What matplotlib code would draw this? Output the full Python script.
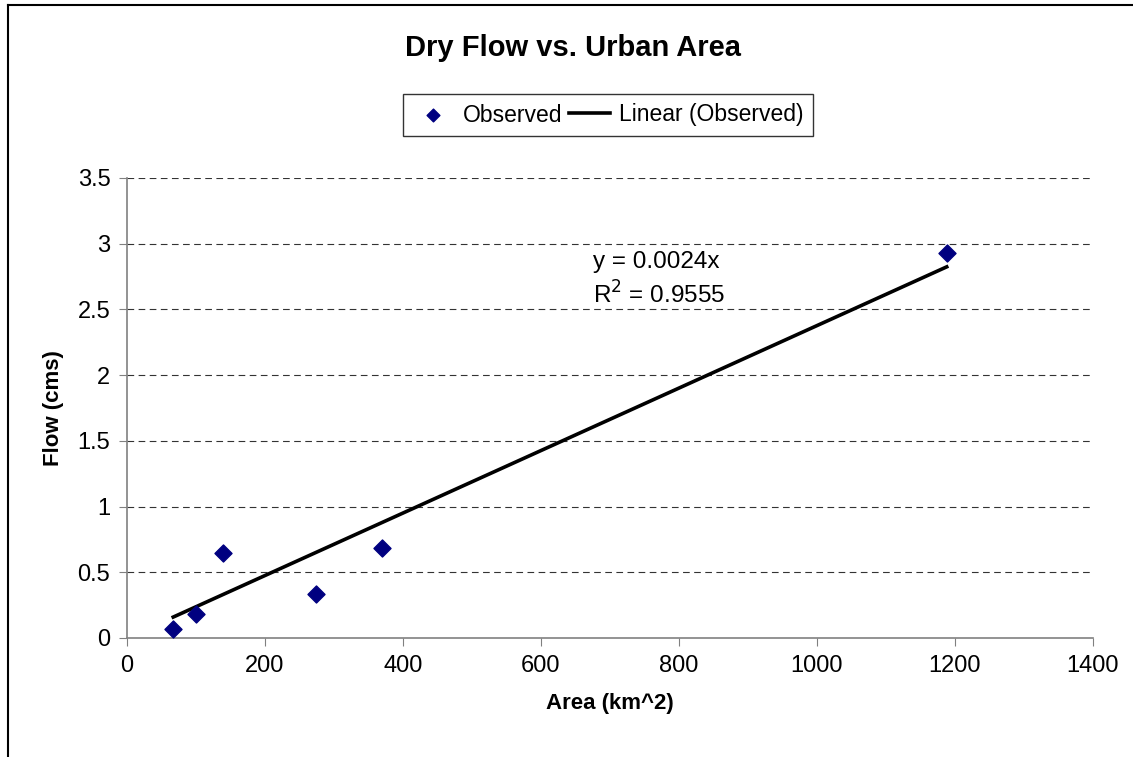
import matplotlib.pyplot as plt
import numpy as np
from matplotlib.lines import Line2D

# Data
area = np.array([67, 100, 139, 274, 370, 1188])
flow = np.array([0.07, 0.18, 0.645, 0.335, 0.687, 2.93])
y_ticks = [0, 0.5, 1, 1.5, 2, 2.5, 3, 3.5]
y_labels = ['0', '0.5', '1', '1.5', '2', '2.5', '3', '3.5']

plt.rcParams['font.family'] = ['Liberation Sans', 'DejaVu Sans']

# Linear trend through the origin
slope = np.sum(area * flow) / np.sum(area * area)

fig = plt.figure(figsize=(11.33, 7.57), dpi=100)
ax = fig.add_axes([127 / 1133, 1 - 638 / 757, 966 / 1133, 460 / 757])

ax.scatter(area, flow, marker='D', s=75, color='#000080', zorder=3,
           label='Observed')
xfit = np.array([area.min(), area.max()])
ax.plot(xfit, slope * xfit, color='black', lw=2.6, zorder=2,
        label='Linear (Observed)')

ax.set_xlim(0, 1400)
ax.set_ylim(0, 3.5)
ax.set_xticks(np.arange(0, 1401, 200))
ax.set_yticks(y_ticks)
ax.set_yticklabels(y_labels)
ax.tick_params(labelsize=17, length=6, color='#808080', pad=6)

# Dashed grid lines
for yv in y_ticks[1:]:
    ax.axhline(yv, color='#333333', lw=0.8, ls=(0, (6, 4)), zorder=1)

for s in ['top', 'right']:
    ax.spines[s].set_visible(False)
for s in ['left', 'bottom']:
    ax.spines[s].set_color('#808080')
    ax.spines[s].set_linewidth(1.2)

ax.set_xlabel('Area (km^2)', fontsize=16, fontweight='bold', labelpad=12)
ax.set_ylabel('Flow (cms)', fontsize=16, fontweight='bold', labelpad=10)

# Trendline equation
fig.text(593 / 1133, 1 - 262 / 757, 'y = 0.0024x', fontsize=17.5,
         va='center', ha='left')
fig.text(593 / 1133, 1 - 295 / 757, 'R$^2$ = 0.9555', fontsize=17.5,
         va='center', ha='left')

fig.text(573 / 1133, 1 - 48 / 757, 'Dry Flow vs. Urban Area',
         fontsize=21, fontweight='bold', ha='center', va='center')

leg = fig.legend(loc='center', bbox_to_anchor=(608 / 1133, 1 - 115 / 757),
                 ncol=2, fontsize=16.5, frameon=True, fancybox=False,
                 handlelength=1.8, columnspacing=0.3, handletextpad=0.4,
                 borderpad=0.4, markerscale=0.75)
leg.get_frame().set_edgecolor('black')
leg.get_frame().set_linewidth(1.0)

# Outer chart border (only left and top are visible in the crop)
fig.add_artist(Line2D([8 / 1133, 8 / 1133], [0, 1 - 5 / 757],
                      color='black', lw=1.5))
fig.add_artist(Line2D([8 / 1133, 1], [1 - 5 / 757, 1 - 5 / 757],
                      color='black', lw=1.5))

fig.savefig('out.png', dpi=100)
